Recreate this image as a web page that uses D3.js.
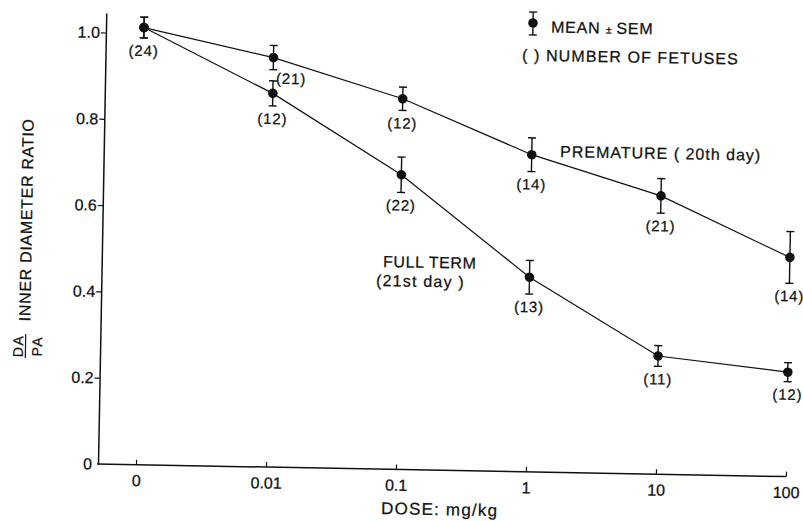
<!DOCTYPE html>
<html lang="en">
<head>
<meta charset="UTF-8">
<title>DA/PA inner diameter ratio vs dose</title>
<script src="https://d3js.org/d3.v7.min.js"></script>
<style>
  body { margin: 0; background: #fff; }
  svg { display: block; }
  text { font-family: "Liberation Sans", Arial, sans-serif; fill: #111; stroke: #111; stroke-width: 0.25px; }
</style>
</head>
<body>
<div id="chart"></div>
<script>
// dose levels (mg/kg) on the x axis
const doses = ["0", "0.01", "0.1", "1", "10", "100"];

// premature (20th day)
const prematureMean = [1.013, 0.949, 0.859, 0.735, 0.645, 0.508];
const prematureSem  = [0.024, 0.028, 0.027, 0.039, 0.040, 0.060];
const prematureN    = [24, 21, 12, 14, 21, 14];

// full term (21st day)
const fullTermMean = [1.013, 0.866, 0.683, 0.451, 0.274, 0.242];
const fullTermSem  = [0.024, 0.029, 0.041, 0.039, 0.024, 0.022];
const fullTermN    = [null, 12, 22, 13, 11, 12]; // dose 0 point is shared, labelled once

const yTicks = [0, 0.2, 0.4, 0.6, 0.8, 1.0];

const width = 803, height = 521;
const ox = 98, oy = 464;   // corner of the axes
const tilt = 1.05;         // the scanned figure sits slightly rotated

const svg = d3.select("#chart").append("svg")
    .attr("width", width)
    .attr("height", height);
svg.append("rect").attr("width", width).attr("height", height).attr("fill", "#fff");

const g = svg.append("g").attr("transform", `rotate(${tilt},${ox},${oy})`);

// page position -> position inside the tilted group
const rad = tilt * Math.PI / 180;
function local(px, py) {
    const dx = px - ox, dy = py - oy;
    return [ox + dx * Math.cos(rad) + dy * Math.sin(rad),
            oy - dx * Math.sin(rad) + dy * Math.cos(rad)];
}

const x = d3.scalePoint().domain(doses).range([136, 786]);
const y = d3.scaleLinear().domain([0, 1.045]).range([oy, 13]);

// y axis
const yAxis = g.append("g")
    .attr("transform", `translate(${ox},0)`)
    .call(d3.axisLeft(y).tickValues(yTicks).tickSize(5).tickSizeOuter(0).tickPadding(1)
        .tickFormat(d => d === 0 ? "0" : d3.format(".1f")(d)))
    .attr("font-size", 16);
yAxis.select(".domain").attr("stroke", "#111").attr("stroke-width", 1.5);
yAxis.selectAll(".tick line").attr("stroke", "#111").attr("stroke-width", 1.2);
yAxis.selectAll(".tick").filter(d => d === 0).select("line").remove();

// x axis, ticks pointing up
const xAxis = g.append("g")
    .attr("transform", `translate(0,${oy})`)
    .call(d3.axisBottom(x).tickSizeInner(-5).tickSizeOuter(0).tickPadding(10))
    .attr("font-size", 16);
xAxis.select(".domain").remove();
xAxis.selectAll(".tick line").attr("stroke", "#111").attr("stroke-width", 1.2);
g.append("line")
    .attr("x1", ox - 1).attr("x2", x(doses[doses.length - 1]))
    .attr("y1", oy).attr("y2", oy)
    .attr("stroke", "#111").attr("stroke-width", 1.5);

// series
const series = [
    { key: "premature", mean: prematureMean, sem: prematureSem, n: prematureN },
    { key: "full", mean: fullTermMean, sem: fullTermSem, n: fullTermN }
];

const line = d3.line().x((d, i) => x(doses[i])).y(d => y(d));

series.forEach(s => {
    g.append("path")
        .datum(s.mean)
        .attr("d", line)
        .attr("fill", "none")
        .attr("stroke", "#111")
        .attr("stroke-width", 1.2);

    const pts = g.append("g").selectAll("g")
        .data(s.mean.map((m, i) => ({ dose: doses[i], m, e: s.sem[i], n: s.n[i], i })))
        .join("g");

    // error bars with caps
    pts.append("line")
        .attr("x1", d => x(d.dose)).attr("x2", d => x(d.dose))
        .attr("y1", d => y(d.m - d.e)).attr("y2", d => y(d.m + d.e))
        .attr("stroke", "#111").attr("stroke-width", 1.4);
    pts.selectAll(".cap")
        .data(d => [{ d, v: d.m - d.e }, { d, v: d.m + d.e }])
        .join("line")
        .attr("class", "cap")
        .attr("x1", c => x(c.d.dose) - 4).attr("x2", c => x(c.d.dose) + 4)
        .attr("y1", c => y(c.v)).attr("y2", c => y(c.v))
        .attr("stroke", "#111").attr("stroke-width", 1.4);

    pts.append("circle")
        .attr("cx", d => x(d.dose)).attr("cy", d => y(d.m))
        .attr("r", 4.8)
        .attr("fill", "#111");

    // number of fetuses
    pts.filter(d => d.n != null).append("text")
        .attr("x", d => x(d.dose) + (s.key === "premature" && d.i === 1 ? 18 : 0))
        .attr("y", d => {
            const barPx = y(d.m - d.e) - y(d.m);
            return y(d.m) + (s.key === "premature" && d.i === 1 ? 26 : barPx + 18);
        })
        .attr("text-anchor", "middle")
        .attr("font-size", 15)
        .attr("letter-spacing", 0.8)
        .text(d => `(${d.n})`);
});

// text placed by page position
function note(px, py, str, size, spacing, anchor) {
    const p = local(px, py);
    return g.append("text")
        .attr("x", p[0]).attr("y", p[1])
        .attr("font-size", size)
        .attr("letter-spacing", spacing || 0)
        .attr("text-anchor", anchor || "start")
        .text(str);
}

note(560, 157, "PREMATURE ( 20th day)", 16, 1);
note(383, 267, "FULL TERM", 16, 0.6);
note(376, 286, "(21st day )", 16, 1.2);
note(381, 514, "DOSE: mg/kg", 17, 1.2);

// legend
const lp = local(533, 23);
const leg = g.append("g").attr("transform", `translate(${lp[0]},${lp[1]})`);
leg.append("line").attr("x1", 0).attr("x2", 0).attr("y1", -11).attr("y2", 12)
    .attr("stroke", "#111").attr("stroke-width", 1.4);
[-11, 12].forEach(v => leg.append("line")
    .attr("x1", -4).attr("x2", 4).attr("y1", v).attr("y2", v)
    .attr("stroke", "#111").attr("stroke-width", 1.4));
leg.append("circle").attr("r", 4.8).attr("fill", "#111");

const meanTxt = note(551, 32.5, "MEAN ", 16, 0.8);
meanTxt.append("tspan").attr("font-size", 11).text("± ");
meanTxt.append("tspan").text("SEM");
note(522, 60.5, "( ) NUMBER OF FETUSES", 16, 1.1);

// y title: DA/PA  INNER DIAMETER RATIO
const tp = local(32, 220);
g.append("text")
    .attr("transform", `translate(${tp[0]},${tp[1]}) rotate(-90)`)
    .attr("text-anchor", "middle")
    .attr("font-size", 16)
    .attr("letter-spacing", 0.7)
    .text("INNER DIAMETER RATIO");

const fp = local(28, 346);
const frac = g.append("g").attr("transform", `translate(${fp[0]},${fp[1]}) rotate(-90)`);
frac.append("text").attr("y", -5).attr("text-anchor", "middle")
    .attr("font-size", 14).attr("letter-spacing", 1.5).text("DA");
frac.append("line").attr("x1", -12).attr("x2", 12).attr("y1", -2.5).attr("y2", -2.5)
    .attr("stroke", "#111").attr("stroke-width", 1.2);
frac.append("text").attr("y", 14).attr("text-anchor", "middle")
    .attr("font-size", 14).attr("letter-spacing", 1.5).text("PA");
</script>
</body>
</html>
